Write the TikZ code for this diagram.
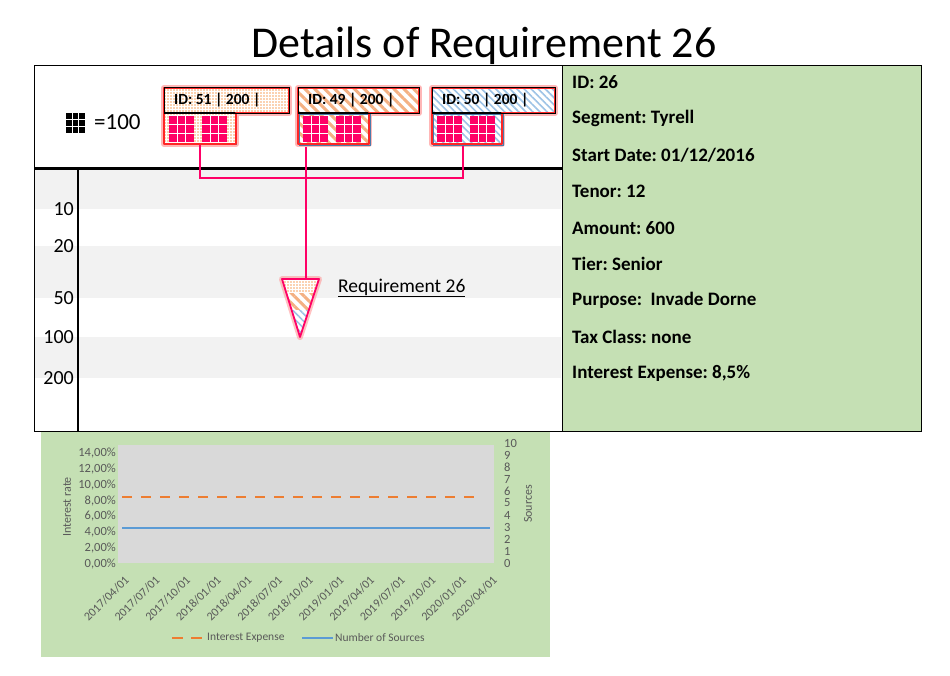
\documentclass[tikz,border=0pt]{standalone}
\usepackage{fontspec}
\setmainfont{Carlito}
\usetikzlibrary{patterns.meta}
\frenchspacing

\definecolor{verde}{HTML}{C5E0B4}
\definecolor{rosa}{HTML}{FF0066}
\definecolor{arancio}{HTML}{F4B183}
\definecolor{azzurro}{HTML}{9DC3E6}
\definecolor{fascia}{HTML}{F2F2F2}
\definecolor{grigio}{HTML}{D9D9D9}
\definecolor{testo}{HTML}{595959}
\definecolor{lineaA}{HTML}{ED7D31}
\definecolor{lineaB}{HTML}{5B9BD5}

\tikzset{
  puntini/.style={preaction={fill=white}, pattern={Dots[radius=0.95pt,distance=3pt]}, pattern color=arancio!75!orange},
  righeA/.style={preaction={fill=white}, pattern={Lines[angle=-45,distance=7pt,line width=3pt]}, pattern color=arancio},
  righeB/.style={preaction={fill=white}, pattern={Lines[angle=-45,distance=5pt,line width=1.6pt]}, pattern color=azzurro},
  bagliore/.style={draw=red!40, line width=6pt, opacity=0.7, line join=round},
  bordo/.style={draw=red!85, line width=1.6pt, line join=round},
  conn/.style={rosa, line width=2pt},
  griglia/.pic={
    \fill (0,0) rectangle (25,26);
    \draw[white, line width=1.1pt] (8.33,0)--(8.33,26) (16.67,0)--(16.67,26) (0,8.67)--(25,8.67) (0,17.33)--(25,17.33);
  }
}

\begin{document}
\begin{tikzpicture}[x=1pt, y=-1pt, inner sep=0pt]
    \useasboundingbox (0,0) rectangle (950,675);

    %titolo
    \node[anchor=base, font=\fontsize{44}{48}\selectfont] (titolo) at (484,57) {Details of Requirement 26};

    %riquadro principale e fasce
    \fill[fascia] (35,170) rectangle (561,209);
    \fill[fascia] (35,246) rectangle (561,298);
    \fill[fascia] (35,337) rectangle (561,378);
    \draw (34,65) rectangle (562,431);
    \draw[fill=verde] (562,65) rectangle (921,431);
    \draw[line width=3pt] (34,168) -- (562,168);
    \draw[line width=1.5pt] (78,168) -- (78,431);
    \foreach \v/\y in {10/209, 20/246, 50/298, 100/337, 200/378} {
        \node[anchor=east, font=\fontsize{20}{22}\selectfont] (v\v) at (74,\y) {\v};
    }

    %legenda unita
    \pic[black, scale=0.76] at (66,113) {griglia};
    \node[anchor=west, font=\fontsize{23}{25}\selectfont] (unita) at (94,122) {=100};

    %sorgenti
    \foreach \n/\xa/\xb/\xc/\pat in {51/164/289/236/puntini, 49/298/419/369/righeA, 50/432/555/502/righeB} {
        \draw[bagliore] (\xa,88) -- (\xb,88) -- (\xb,113) -- (\xc,113) -- (\xc,144) -- (\xa,144) -- cycle;
        \node[draw=lineaB!80!black, line width=0.6pt, \pat, anchor=north west, minimum width=\xc-\xa, minimum height=31] (s\n) at (\xa,113) {};
        \node[draw=black, line width=0.9pt, \pat, anchor=south west, minimum width=\xb-\xa, minimum height=25] (h\n) at (\xa,113) {};
        \draw[bordo] (\xa,88) -- (\xb,88) -- (\xb,113) -- (\xc,113) -- (\xc,144) -- (\xa,144) -- cycle;
        \draw[black, line width=0.9pt] (h\n.south west) rectangle (h\n.north east);
        \node[anchor=west, font=\fontsize{15.5}{17}\bfseries] (t\n) at ([xshift=10]h\n.west) {ID: \n\ | 200 |};
        \foreach \dx in {5,38} {
            \pic[rosa] at (\xa+\dx,116) {griglia};
        }
    }

    %requisito
    \coordinate (req) at (306,279);
    \draw[red!40, line width=6pt, opacity=0.6, line join=round] (282,279) -- (319,279) -- (300,337) -- cycle;
    \begin{scope}
        \clip (282,279) -- (319,279) -- (300,337) -- cycle;
        \fill[puntini] (270,279) rectangle (330,293);
        \fill[righeA] (270,293) rectangle (330,310);
        \fill[righeB] (270,310) rectangle (330,338);
    \end{scope}
    \draw[rosa, line width=1.8pt, line join=round] (282,279) -- (319,279) -- (300,337) -- cycle;
    \node[anchor=west, font=\fontsize{19.5}{21}\selectfont] (nome) at (338,288) {\underline{Requirement 26}};

    %collegamenti
    \draw[conn] (s51.south) -- ++(0,33) -| ([xshift=-5]s50.south);
    \draw[conn] ([xshift=8]s49.south west) -- (req);

    %dettagli
    \foreach \t [count=\i] in {ID: 26, Segment: Tyrell, Start Date: 01/12/2016, Tenor: 12, Amount: 600, Tier: Senior, Purpose:\ \ Invade Dorne, Tax Class: none, {Interest Expense: 8,5\%}} {
        \node[anchor=west, font=\fontsize{19}{21}\bfseries] (info\i) at (572,{82+(\i-1)*36.4}) {\t};
    }

    %grafico
    \fill[verde] (41,432) rectangle (550,657);
    \fill[grigio] (118,445) rectangle (494,563);
    \foreach \k in {0,...,7} {
        \node[anchor=east, testo, font=\fontsize{12.5}{14}\selectfont] (ya\k) at (116,{564-\k*15.85}) {\the\numexpr2*\k\relax,00\%};
    }
    \foreach \k in {0,...,10} {
        \node[anchor=west, testo, font=\fontsize{12.5}{14}\selectfont] (yb\k) at (504,{563-\k*12}) {\k};
    }
    \node[rotate=90, testo, font=\fontsize{12}{14}\selectfont] (asseA) at (67,507) {Interest rate};
    \node[rotate=90, testo, font=\fontsize{12}{14}\selectfont] (asseB) at (528,504) {Sources};
    \foreach \a/\m [count=\i from 0] in {2017/04, 2017/07, 2017/10, 2018/01, 2018/04, 2018/07, 2018/10, 2019/01, 2019/04, 2019/07, 2019/10, 2020/01, 2020/04} {
        \node[rotate=45, anchor=east, testo, font=\fontsize{12}{14}\selectfont] (d\i) at ({127+\i*30.67},578) {\a/\m/01};
    }
    \draw[lineaA, line width=2.5pt, dash pattern=on 10pt off 9pt] (122,497) -- (482,497);
    \draw[lineaB, line width=2.5pt] (122,528) -- (490,528);

    %legenda grafico
    \draw[lineaA, line width=2.5pt, dash pattern=on 11pt off 8pt] (172,638) -- (203,638);
    \node[anchor=west, testo, font=\fontsize{11.5}{13}\selectfont] (legA) at (207,638) {Interest Expense};
    \draw[lineaB, line width=2.5pt] (302,638) -- (333,638);
    \node[anchor=west, testo, font=\fontsize{11.5}{13}\selectfont] (legB) at (335,638) {Number of Sources};
\end{tikzpicture}
\end{document}
